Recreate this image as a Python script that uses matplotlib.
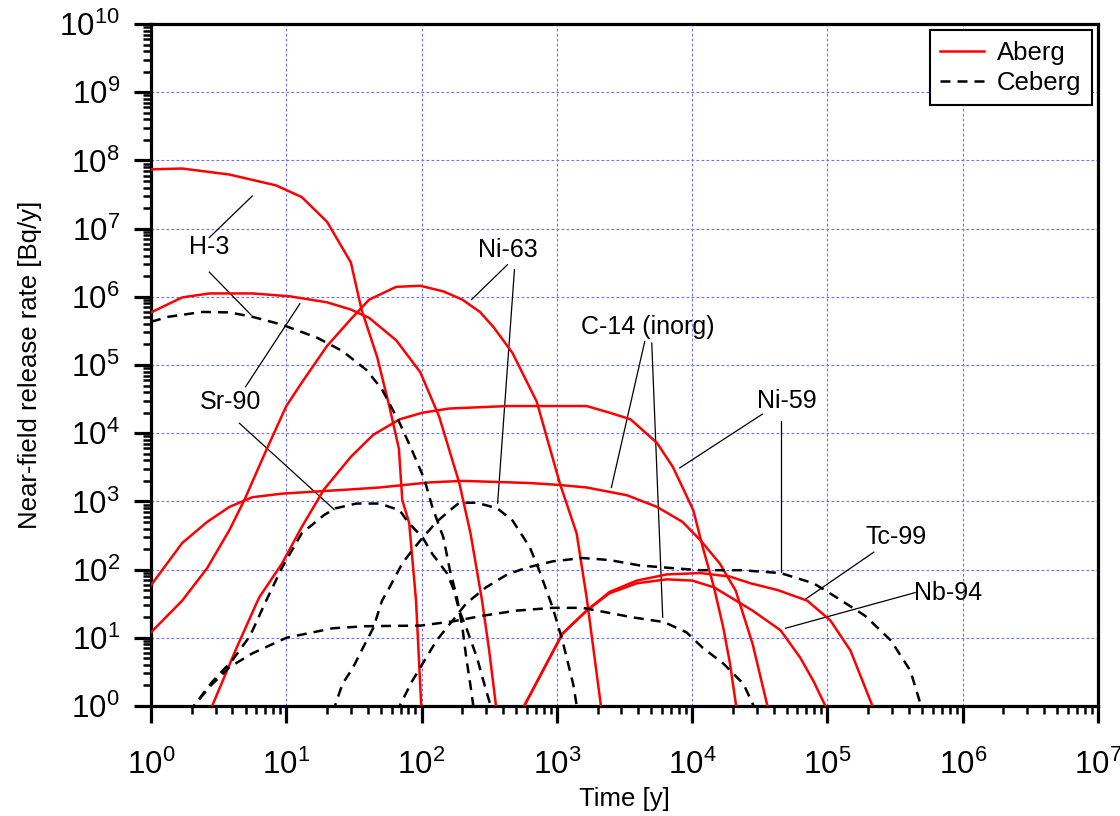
import numpy as np
import matplotlib
matplotlib.use("Agg")
import matplotlib.pyplot as plt
from matplotlib.ticker import FixedLocator, NullFormatter, LogFormatterSciNotation

plt.rcParams['font.family'] = ['Liberation Sans', 'DejaVu Sans']
plt.rcParams['mathtext.fontset'] = 'custom'
plt.rcParams['mathtext.rm'] = 'Liberation Sans'
plt.rcParams['mathtext.it'] = 'Liberation Sans:italic'
plt.rcParams['mathtext.bf'] = 'Liberation Sans:bold'

# ---- Aberg (red, solid): time [y], release rate [Bq/y] ----
h3_a_t = [1, 1.7, 3.8, 8.4, 13, 20, 30, 36, 47, 58, 68, 72, 81, 91, 100]
h3_a_v = [7.4e7, 7.6e7, 6.2e7, 4.3e7, 2.9e7, 1.26e7, 3.2e6, 6.5e5, 1.3e5, 2.4e4, 5.9e3, 1.05e3, 480, 35, 0.8]

sr90_a_t = [1, 1.7, 2.7, 5.6, 10.5, 20, 30, 41, 65, 98, 135, 190, 230, 280, 316, 360]
sr90_a_v = [5.9e5, 9.8e5, 1.12e6, 1.12e6, 1.02e6, 8.3e5, 6.5e5, 4.9e5, 2.3e5, 7.8e4, 1.74e4, 1.86e3, 340, 35, 6.5, 0.8]

ni63_a_t = [1, 1.7, 2.6, 3.8, 4.9, 7.1, 10, 13, 20, 30, 41, 65, 98, 145, 200, 270, 340, 470, 710, 1050, 1400, 1660, 2150]
ni63_a_v = [12, 35, 105, 380, 1.05e3, 5.6e3, 2.5e4, 5.5e4, 1.9e5, 4.7e5, 9.1e5, 1.4e6, 1.45e6, 1.2e6, 9.1e5, 6.0e5,
            3.6e5, 1.5e5, 2.9e4, 1.86e3, 340, 39, 0.8]

ni59_a_t = [2.7, 4.3, 6.3, 9.3, 13, 19, 30, 44, 69, 102, 160, 430, 1660, 2450, 3500, 5500, 7200, 8500,
            1.02e4, 1.2e4, 1.45e4, 1.7e4, 1.9e4, 2.15e4]
ni59_a_v = [0.8, 7.2, 39, 123, 420, 1.5e3, 4.5e3, 9.5e3, 1.6e4, 2.0e4, 2.3e4, 2.5e4, 2.5e4, 2.0e4, 1.6e4, 7.2e3,
            3.2e3, 1.6e3, 740, 210, 55, 14, 4.3, 0.8]

c14_a_t = [1, 1.7, 2.6, 3.8, 5.6, 9.3, 17, 30, 49, 115, 200, 630, 1050, 1660, 3300, 5500, 8500, 1.15e4,
           1.6e4, 2.1e4, 2.8e4, 3.7e4]
c14_a_v = [59, 245, 500, 830, 1.15e3, 1.3e3, 1.4e3, 1.5e3, 1.6e3, 1.9e3, 2.0e3, 1.86e3, 1.74e3, 1.6e3, 1.23e3,
           830, 500, 270, 123, 49, 8.1, 0.8]

tc99_a_t = [540, 1100, 1660, 2450, 3900, 6500, 1.15e4, 1.9e4, 2.7e4, 4.3e4, 7.1e4, 1.05e5, 1.48e5, 2.25e5]
tc99_a_v = [0.8, 11.5, 25, 47, 69, 85, 89, 79, 63, 50, 35, 18, 6.5, 0.8]

nb94_a_t = [540, 1100, 1660, 2450, 3900, 6500, 1.0e4, 1.45e4, 2.8e4, 4.5e4, 6.3e4, 7.9e4, 1.02e5]
nb94_a_v = [0.8, 11.5, 25, 45, 63, 72, 69, 55, 25, 12.9, 5.1, 2.3, 0.8]

# ---- Ceberg (black, dashed) ----
h3_c_t = [1, 1.35, 2.4, 3.8, 5.6, 9.3, 17, 26, 39, 51, 69, 85, 105, 120, 145, 162, 182, 200, 214, 229, 245]
h3_c_v = [4.3e5, 5.1e5, 6.0e5, 5.9e5, 5.1e5, 3.9e5, 2.5e5, 1.6e5, 8.5e4, 4.4e4, 1.4e4, 5.6e3, 2.1e3, 830, 295,
          98, 40, 14.5, 5.1, 2.1, 0.8]

sr90_c_t = [1.9, 2.8, 4.0, 5.4, 7.1, 9.3, 13, 19, 23, 33, 49, 69, 79, 102, 120, 155, 174, 190, 214, 257, 282, 335]
sr90_c_v = [0.8, 2.2, 4.7, 10.7, 35, 107, 340, 630, 790, 930, 930, 740, 500, 295, 170, 87, 49, 25, 14, 5.1,
            2.6, 0.8]

c14_c_t = [1.9, 2.7, 3.8, 5.6, 10, 22, 39, 98, 170, 280, 500, 930, 1550, 3600, 6200, 9100, 1.2e4, 1.7e4,
           2.4e4, 3.0e4]
c14_c_v = [0.8, 1.9, 3.7, 5.9, 10, 13.8, 14.8, 15.1, 17.4, 21, 25, 27.5, 27.5, 20, 17, 12, 7.1, 4.2, 2.1, 0.8]

ni63_c_t = [22, 26, 31, 36, 44, 51, 58, 72, 85, 102, 129, 162, 190, 257, 363, 470, 630, 740, 930, 1100,
            1320, 1430]
ni63_c_v = [0.8, 2.1, 3.6, 6.5, 14, 35, 55, 123, 190, 295, 500, 740, 955, 955, 790, 525, 214, 98, 28, 9.1,
            2.1, 0.8]

ni59_c_t = [65, 85, 102, 129, 170, 214, 300, 430, 600, 930, 1550, 2450, 4100, 7200, 1.15e4, 2.3e4, 4.5e4,
            7.9e4, 1.17e5, 1.9e5, 2.95e5, 4.1e5, 5.1e5]
ni59_c_v = [0.8, 2.3, 4.2, 9.1, 18, 32, 55, 85, 107, 132, 148, 138, 115, 105, 98, 98, 89, 63, 39, 21, 9.1,
            3.3, 0.8]

x_decades = [1e0, 1e1, 1e2, 1e3, 1e4, 1e5, 1e6, 1e7]
y_decades = [1e0, 1e1, 1e2, 1e3, 1e4, 1e5, 1e6, 1e7, 1e8, 1e9, 1e10]

aberg = [(h3_a_t, h3_a_v), (sr90_a_t, sr90_a_v), (ni63_a_t, ni63_a_v), (ni59_a_t, ni59_a_v),
         (c14_a_t, c14_a_v), (tc99_a_t, tc99_a_v), (nb94_a_t, nb94_a_v)]
ceberg = [(h3_c_t, h3_c_v), (sr90_c_t, sr90_c_v), (c14_c_t, c14_c_v), (ni63_c_t, ni63_c_v),
          (ni59_c_t, ni59_c_v)]

fig = plt.figure(figsize=(11.2, 8.16), dpi=100)
ax = fig.add_axes([151 / 1120, 1 - 706 / 816, 947 / 1120, 682 / 816])

for i, (t, v) in enumerate(aberg):
    ax.plot(t, v, color='#ff0000', lw=1.8, label='Aberg' if i == 0 else None, zorder=3)
for i, (t, v) in enumerate(ceberg):
    ax.plot(t, v, color='black', lw=1.8, dashes=(4, 2.8), label='Ceberg' if i == 0 else None, zorder=3)

ax.set_xscale('log')
ax.set_yscale('log')
ax.set_xlim(1, 1e7)
ax.set_ylim(1, 1e10)

# decade ticks, with 2..9 minor ticks inside the range only
x_minor = [m * d for d in x_decades[:-1] for m in range(2, 10)]
y_minor = [m * d for d in y_decades[:-1] for m in range(2, 10)]
ax.xaxis.set_major_locator(FixedLocator(x_decades))
ax.yaxis.set_major_locator(FixedLocator(y_decades))
ax.xaxis.set_minor_locator(FixedLocator(x_minor))
ax.yaxis.set_minor_locator(FixedLocator(y_minor))
ax.xaxis.set_major_formatter(LogFormatterSciNotation())
ax.yaxis.set_major_formatter(LogFormatterSciNotation())
ax.xaxis.set_minor_formatter(NullFormatter())
ax.yaxis.set_minor_formatter(NullFormatter())

ax.grid(True, which='major', color='#6e6eff', lw=0.8, linestyle=(0, (2.5, 2)))
for s in ax.spines.values():
    s.set_linewidth(2.3)
ax.tick_params(which='major', direction='out', length=12.5, width=2.3, labelsize=22.5, top=False, right=False)
ax.tick_params(axis='x', which='major', pad=19)
ax.tick_params(axis='y', which='major', pad=10)
ax.tick_params(which='minor', direction='out', length=6, width=1.8, top=False, right=False)

ax.set_xlabel('Time [y]', fontsize=18.5, labelpad=4)
ax.set_ylabel('Near-field release rate [Bq/y]', fontsize=18.5, labelpad=12)

# ---- leader-line labels ----
lk = dict(color='black', lw=0.9)
fs = 18
ax.text(2.7, 5.3e6, 'H-3', fontsize=fs, ha='center', va='center')
ax.plot([2.7, 5.6], [7.4e6, 3.0e7], **lk)
ax.plot([2.7, 5.5], [2.3e6, 5.4e5], **lk)

ax.text(3.85, 2.9e4, 'Sr-90', fontsize=fs, ha='center', va='center')
ax.plot([5.0, 12.6], [4.8e4, 7.9e5], **lk)
ax.plot([4.5, 22.6], [1.4e4, 760], **lk)

ax.text(431, 4.8e6, 'Ni-63', fontsize=fs, ha='center', va='center')
ax.plot([431, 234], [2.95e6, 9.1e5], **lk)
ax.plot([486, 365], [2.5e6, 940], **lk)

ax.text(4700, 3.6e5, 'C-14 (inorg)', fontsize=fs, ha='center', va='center')
ax.plot([4460, 2530], [2.2e5, 1.6e3], **lk)
ax.plot([5030, 6060], [2.1e5, 20], **lk)

ax.text(5.0e4, 3.0e4, 'Ni-59', fontsize=fs, ha='center', va='center')
ax.plot([3.3e4, 8100], [1.9e4, 3.1e3], **lk)
ax.plot([4.5e4, 4.5e4], [1.5e4, 91], **lk)

ax.text(3.2e5, 300, 'Tc-99', fontsize=fs, ha='center', va='center')
ax.plot([2.2e5, 6.9e4], [180, 37], **lk)

ax.text(7.8e5, 45, 'Nb-94', fontsize=fs, ha='center', va='center')
ax.plot([4.45e5, 4.9e4], [46, 13.8], **lk)

leg = ax.legend(loc='upper right', fontsize=18.5, frameon=True, fancybox=False, framealpha=1,
                edgecolor='black', handlelength=1.7, handletextpad=0.5, labelspacing=0.25,
                borderpad=0.4, borderaxespad=0.25)
leg.get_frame().set_linewidth(1.5)

fig.savefig('out.png', dpi=100)
